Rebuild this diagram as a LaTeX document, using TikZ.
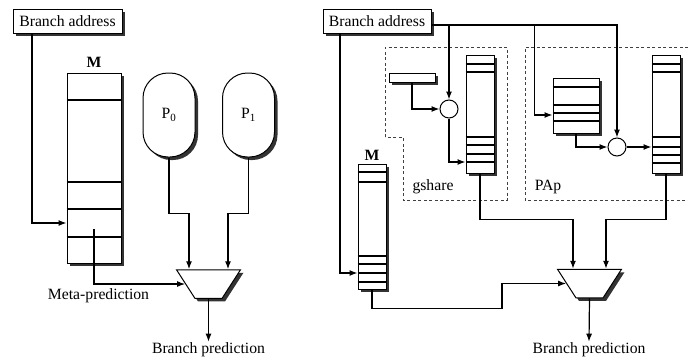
\documentclass[tikz,border=0pt]{standalone}
\usepackage{fontspec}
\setmainfont{Liberation Serif}
\usetikzlibrary{arrows.meta,shapes.geometric,shadows}

\begin{document}
\begin{tikzpicture}[x=1pt,y=-1pt,
  font=\fontsize{15.7}{18}\selectfont,
  shbox/.style={draw,fill=white,line width=1pt,inner sep=0pt,
    drop shadow={shadow xshift=3pt,shadow yshift=-3pt,fill=black!80,opacity=1}},
  pred/.style={shbox,rounded corners=25pt,minimum width=52pt,minimum height=84pt},
  mux/.style={shbox,trapezium,trapezium angle=56,shape border rotate=180,
    trapezium stretches=true,inner sep=1pt,minimum width=64pt,minimum height=28.5pt},
  xor/.style={circle,draw,fill=white,line width=1pt,minimum size=18pt,inner sep=0pt},
  row/.style={line width=1.3pt},
  wire/.style={line width=1.2pt},
  arr/.style={wire,-{Latex[length=8pt,width=6pt]}},
  grp/.style={line width=1pt,black!75,dash pattern=on 3pt off 2.5pt},
  lbl/.style={inner sep=1pt}]
\useasboundingbox (0,0) rectangle (688,359);

% Left: tournament predictor
\node[shbox,minimum width=109pt,minimum height=24pt] (baA) at (67.5,21) {Branch address};
\node[shbox,minimum width=54pt,minimum height=190pt] (mA) at (94,168) {};
\foreach \y in {100,182,209,237}
  \draw[row] (mA.west |- 0,\y) -- (mA.east |- 0,\y);
\node[lbl,font=\fontsize{15.7}{18}\selectfont\bfseries] (mlA) at (94,62) {M};

\node[pred] (p0) at (169,115) {P\textsubscript{0}};
\node[pred] (p1) at (248.5,115) {P\textsubscript{1}};
\node[mux] (mxA) at (208.5,284) {};
\node[lbl] (metaA) at (98.5,296) {Meta-prediction};
\node[lbl] (bpA) at (208.5,350) {Branch prediction};

\coordinate (mpA) at (94,229);
\draw[arr] ([xshift=-35.5pt]baA.south) |- ([yshift=-55pt]mA.west);
\draw[arr] (mpA) |- (mxA.west);
\draw[arr] (p0.south) -- ++(0,56) -| ([xshift=-19.5pt]mxA.north);
\draw[arr] (p1.south) -- ++(0,56) -| ([xshift=19.5pt]mxA.north);
\draw[arr] (mxA.south) -- (bpA.north);

% Right: gshare + PAp with selector
\node[shbox,minimum width=108pt,minimum height=24pt] (baB) at (377,21) {Branch address};
\draw[grp] (385,137) -- (385,47) -- (507,47) -- (507,200) -- (403,200) -- (403,137) -- cycle;
\draw[grp] (688,47) -- (525,47) -- (525,200) -- (688,200);
\node[lbl] (gsl) at (433,187) {gshare};
\node[lbl] (pal) at (548,187) {PAp};

\node[shbox,minimum width=46pt,minimum height=9pt] (ghr) at (412,77.5) {};
\node[xor] (xg) at (449,109) {};
\node[shbox,minimum width=28pt,minimum height=118pt] (gpht) at (480,114) {};
\foreach \y in {64,72,137,145,154,162}
  \draw[row] (gpht.west |- 0,\y) -- (gpht.east |- 0,\y);

\node[shbox,minimum width=46pt,minimum height=55pt] (bht) at (576,105.5) {};
\foreach \y in {87,105,113,121}
  \draw[row] (bht.west |- 0,\y) -- (bht.east |- 0,\y);
\node[xor] (xp) at (617,147) {};
\node[shbox,minimum width=28pt,minimum height=118pt] (ppht) at (666,114) {};
\foreach \y in {64,72,137,147,155,163}
  \draw[row] (ppht.west |- 0,\y) -- (ppht.east |- 0,\y);

\node[shbox,minimum width=28pt,minimum height=125pt] (mB) at (372,226.5) {};
\foreach \y in {172,182,256,264,273,282}
  \draw[row] (mB.west |- 0,\y) -- (mB.east |- 0,\y);
\node[lbl,font=\fontsize{15.7}{18}\selectfont\bfseries] (mlB) at (372,155) {M};

\node[mux] (mxB) at (589.5,283.5) {};
\node[lbl] (bpB) at (589,350) {Branch prediction};

\draw[arr] ([yshift=-4pt]baB.east) -| (xp.north);
\draw[arr] ([yshift=-4pt]baB.east) -| (xg.north);
\draw[arr] ([yshift=-4pt]baB.east) -| ([xshift=-18pt,yshift=-9.5pt]bht.west) -- ([yshift=-9.5pt]bht.west);
\draw[arr] ([xshift=-37pt]baB.south) |- ([yshift=-46.5pt]mB.west);
\draw[arr] (ghr.south) |- (xg.west);
\draw[arr] (xg.south) |- ([yshift=-48pt]gpht.west);
\draw[arr] (bht.south) |- (xp.west);
\draw[arr] (xp.east) -- (ppht.west |- xp.east);
\draw[arr] (gpht.south) -- ++(0,46) -| ([xshift=-16.5pt]mxB.north);
\draw[arr] (ppht.south) -- ++(0,46) -| ([xshift=16.5pt]mxB.north);
\draw[arr] (mB.south) -- ++(0,19) -| ([xshift=-64pt]mxB.west) -- (mxB.west);
\draw[arr] (mxB.south) -- (bpB.north);

\end{tikzpicture}
\end{document}
